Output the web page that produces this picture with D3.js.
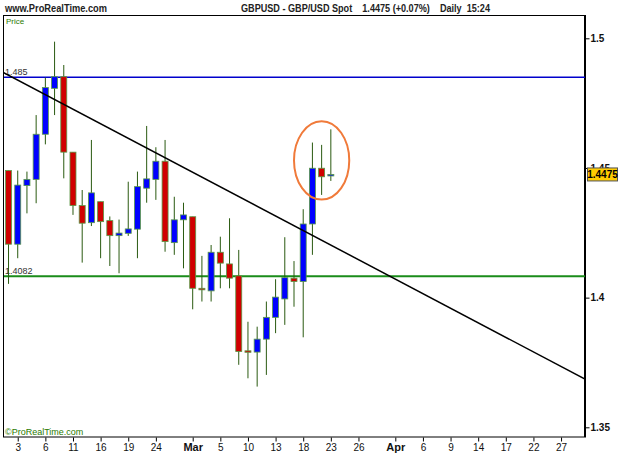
<!DOCTYPE html>
<html>
<head>
<meta charset="utf-8">
<script src="https://cdn.jsdelivr.net/npm/d3@7"></script>
<style>
  body { margin: 0; background: #fff; }
  svg { display: block; font-family: "Liberation Sans", Arial, sans-serif; }
</style>
</head>
<body>
<svg id="chart" width="625" height="469"></svg>
<script>
// GBP/USD daily candles, Feb 2 - Mar 23 2009
const dates = ["2009-02-02","2009-02-03","2009-02-04","2009-02-05","2009-02-06",
  "2009-02-09","2009-02-10","2009-02-11","2009-02-12","2009-02-13",
  "2009-02-16","2009-02-17","2009-02-18","2009-02-19","2009-02-20",
  "2009-02-23","2009-02-24","2009-02-25","2009-02-26","2009-02-27",
  "2009-03-02","2009-03-03","2009-03-04","2009-03-05","2009-03-06",
  "2009-03-09","2009-03-10","2009-03-11","2009-03-12","2009-03-13",
  "2009-03-16","2009-03-17","2009-03-18","2009-03-19","2009-03-20","2009-03-23"]
const opens  = [1.4490,1.4206,1.4432,1.4456,1.4630,1.4807,1.4852,1.4561,1.4355,1.4289,
  1.4370,1.4297,1.4239,1.4248,1.4264,1.4422,1.4456,1.4526,1.4212,1.4300,
  1.4312,1.4036,1.4026,1.4175,1.4130,1.4084,1.3795,1.3790,1.3840,1.3924,
  1.3995,1.4075,1.4062,1.4284,1.4499,1.4472]
const highs  = [1.4490,1.4490,1.4486,1.4704,1.4848,1.4987,1.4897,1.4561,1.4415,1.4608,
  1.4370,1.4313,1.4301,1.4447,1.4486,1.4662,1.4580,1.4608,1.4389,1.4366,
  1.4312,1.4161,1.4203,1.4235,1.4306,1.4184,1.3907,1.3888,1.3985,1.4071,
  1.4233,1.4141,1.4341,1.4598,1.4589,1.4649]
const lows   = [1.4053,1.4152,1.4325,1.4364,1.4591,1.4704,1.4460,1.4319,1.4135,1.4276,
  1.4152,1.4122,1.4094,1.4238,1.4152,1.4366,1.4377,1.4177,1.4165,1.4113,
  1.3955,1.3985,1.3985,1.4036,1.4036,1.3741,1.3689,1.3657,1.3702,1.3863,
  1.3895,1.3965,1.3847,1.4165,1.4396,1.4450]
const closes = [1.4206,1.4434,1.4456,1.4630,1.4810,1.4852,1.4561,1.4355,1.4287,1.4404,
  1.4293,1.4239,1.4249,1.4265,1.4428,1.4458,1.4526,1.4216,1.4300,1.4319,
  1.4036,1.4030,1.4175,1.4133,1.4075,1.3792,1.3790,1.3840,1.3924,1.4002,
  1.4077,1.4062,1.4284,1.4499,1.4466,1.4475]

const tickDates  = ["2009-02-03","2009-02-06","2009-02-11","2009-02-16","2009-02-19","2009-02-24",
  "2009-03-02","2009-03-05","2009-03-10","2009-03-13","2009-03-18","2009-03-23","2009-03-26",
  "2009-04-01","2009-04-06","2009-04-09","2009-04-14","2009-04-17","2009-04-22","2009-04-27"]
const tickLabels = ["3","6","11","16","19","24","Mar","5","10","13","18","23","26",
  "Apr","6","9","14","17","22","27"]
const priceTicks = [1.35, 1.4, 1.45, 1.5]

const levels = [1.485, 1.4082]
const levelLabels = ["1.485", "1.4082"]
const trendSlots = [-0.6, 62.6]      // trading-day slots of trendline ends
const trendValues = [1.4869, 1.3686]
const circleSlots = [31, 37]
const circleValues = [1.4378, 1.4680]
const lastPrice = 1.4475

const svg = d3.select('#chart')
const L = 3, R = 585, T = 15, B = 437.5

// trading-day axis: weekdays from Feb 2
const days = d3.utcDays(new Date(Date.UTC(2009,1,2)), new Date(Date.UTC(2009,4,2)))
    .filter(d=>d.getUTCDay()%6 !== 0)
const slot = s=>days.findIndex(d=>d.toISOString().slice(0,10) === s)

const x = d3.scaleLinear().domain([-0.6, 62.6]).range([L, R])
const y = d3.scaleLinear().domain([1.35, 1.5]).range([427.3, 38.3])

const candles = dates.map((d, i)=>({slot: slot(d), o: opens[i], h: highs[i], l: lows[i], c: closes[i]}))

// header (narrow bold font in the original, so squeeze to its width)
svg.append('text').attr('x', 5).attr('y', 12).attr('font-size', 10.5).attr('font-weight', 'bold')
    .attr('fill', '#222').attr('textLength', 102).attr('lengthAdjust', 'spacingAndGlyphs')
    .text('www.ProRealTime.com')
svg.append('text').attr('x', 241).attr('y', 12).attr('font-size', 10.5).attr('font-weight', 'bold')
    .attr('fill', '#222').style('white-space', 'pre')
    .attr('textLength', 249).attr('lengthAdjust', 'spacingAndGlyphs')
    .text('GBPUSD - GBP/USD Spot    1.4475 (+0.07%)    Daily  15:24')

// frame
svg.append('rect').attr('x', L + 0.5).attr('y', T + 0.5).attr('width', R - L - 1).attr('height', B - T - 1)
    .attr('fill', 'none').attr('stroke', '#000')
svg.append('text').attr('x', 6).attr('y', 24).attr('font-size', 8).attr('fill', '#2a7a00').text('Price')
svg.append('text').attr('x', 5).attr('y', 435).attr('font-size', 9).attr('fill', '#2a7a00').text('\u00a9ProRealTime.com')

const plot = svg.append('g')
svg.append('clipPath').attr('id', 'clip').append('rect')
    .attr('x', L + 1).attr('y', T + 1).attr('width', R - L - 1).attr('height', B - T - 2)
plot.attr('clip-path', 'url(#clip)')

// support / resistance levels
levels.forEach((v, i)=>{
    plot.append('line').attr('x1', L).attr('x2', R).attr('y1', y(v)).attr('y2', y(v))
        .attr('stroke', i? '#1a8c1a':'#0000cc').attr('stroke-width', i? 2:1.5)
    plot.append('text').attr('x', 5).attr('y', y(v) - 2).attr('font-size', 9).attr('fill', '#333')
        .text(levelLabels[i])
})

// candles
const cg = plot.append('g')
cg.selectAll('line').data(candles).join('line')
    .attr('x1', d=>x(d.slot)).attr('x2', d=>x(d.slot))
    .attr('y1', d=>y(d.h)).attr('y2', d=>y(d.l))
    .attr('stroke', '#2a5a10').attr('stroke-width', 1)
cg.selectAll('rect').data(candles).join('rect')
    .attr('x', d=>x(d.slot) - 3)
    .attr('width', 6)
    .attr('y', d=>y(Math.max(d.o, d.c)))
    .attr('height', d=>Math.max(1.5, Math.abs(y(d.o) - y(d.c))))
    .attr('fill', d=>d.c >= d.o? '#0000ff':'#d00000')
    .attr('stroke', '#5a9a48').attr('stroke-width', 0.8)

// trendline
plot.append('line')
    .attr('x1', x(trendSlots[0])).attr('y1', y(trendValues[0]))
    .attr('x2', x(trendSlots[1])).attr('y2', y(trendValues[1]))
    .attr('stroke', '#000').attr('stroke-width', 1.5)

// highlight ellipse
plot.append('ellipse')
    .attr('cx', (x(circleSlots[0]) + x(circleSlots[1])) / 2)
    .attr('cy', (y(circleValues[0]) + y(circleValues[1])) / 2)
    .attr('rx', (x(circleSlots[1]) - x(circleSlots[0])) / 2)
    .attr('ry', (y(circleValues[0]) - y(circleValues[1])) / 2)
    .attr('fill', 'none').attr('stroke', '#f07a3a').attr('stroke-width', 2)

// price axis
const yAxis = svg.append('g').attr('transform', `translate(${R + 0.5},0)`)
    .call(d3.axisRight(y).tickValues(priceTicks).tickSize(4).tickPadding(1).tickFormat(d3.format('')))
yAxis.select('.domain').attr('d', `M0,${T}V${B}`).attr('stroke', '#000')
yAxis.selectAll('text').attr('font-size', 10).attr('font-weight', 'bold').attr('fill', '#111')
    .attr('font-family', '"Liberation Sans", Arial, sans-serif')

// last price tag
const tag = svg.append('g').attr('transform', `translate(587,${y(lastPrice)})`)
tag.append('rect').attr('x', 0.5).attr('y', -6.5).attr('width', 30).attr('height', 13)
    .attr('fill', '#ffcc00').attr('stroke', '#555')
tag.append('text').attr('x', 15.5).attr('y', 4).attr('text-anchor', 'middle')
    .attr('font-size', 10).attr('font-weight', 'bold').attr('fill', '#000').text('1.4475')

// date axis
const xAxis = svg.append('g').attr('transform', `translate(0,${B})`)
    .call(d3.axisBottom(x).tickValues(tickDates.map(slot)).tickSize(4).tickPadding(2)
        .tickFormat((d, i)=>tickLabels[i]))
xAxis.select('.domain').remove()
xAxis.selectAll('line').attr('stroke', '#000')
xAxis.selectAll('text').attr('fill', '#111')
    .attr('font-family', '"Liberation Sans", Arial, sans-serif')
    .attr('font-weight', (d, i)=>tickLabels[i].length > 2? 'bold':'normal')
    .attr('font-size', (d, i)=>tickLabels[i].length > 2? 11:10)
</script>
</body>
</html>
